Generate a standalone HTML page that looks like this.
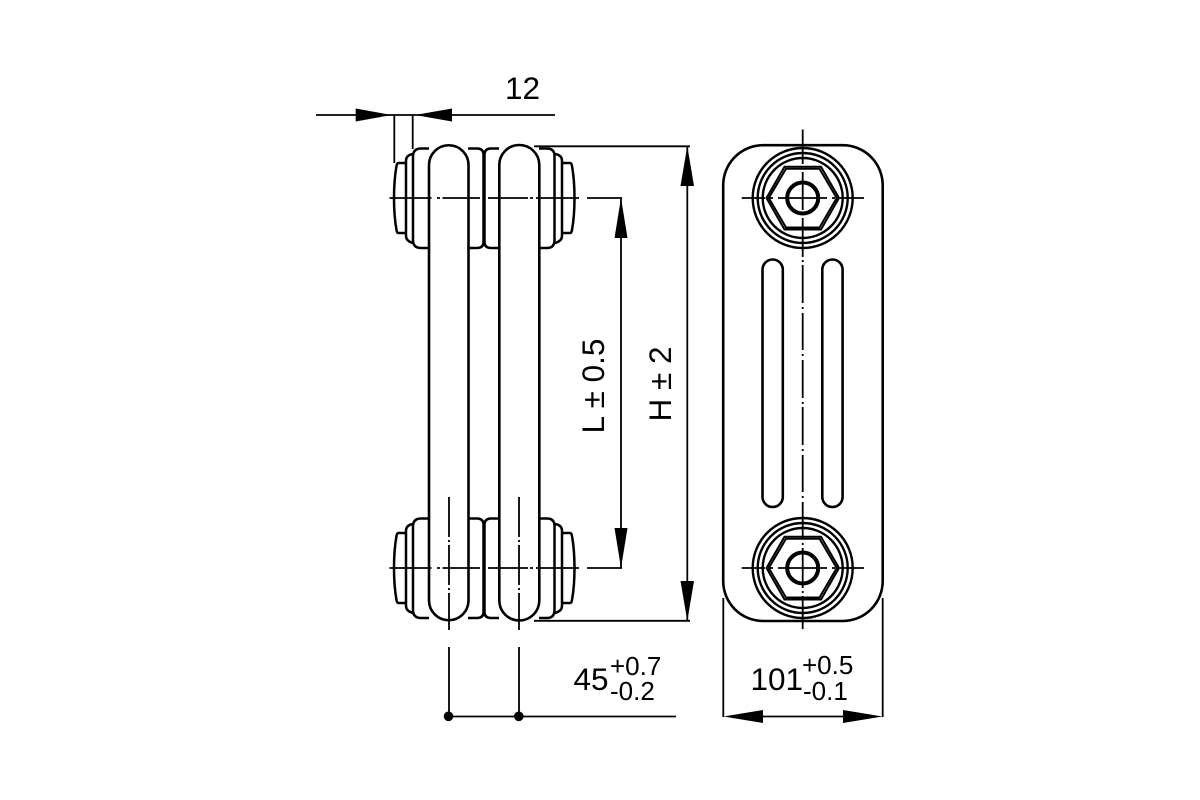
<!DOCTYPE html>
<html>
<head>
<meta charset="utf-8">
<style>
html,body{margin:0;padding:0;background:#fff}
svg{display:block}
text{font-family:"Liberation Sans",sans-serif;fill:#000}
</style>
</head>
<body>
<svg width="1200" height="800" viewBox="0 0 1200 800">
<defs>
<g id="collar" fill="none" stroke="#000" stroke-width="2.500">
  <path d="M429,148.500H421Q413,148.500 413,156.500V240Q413,248 421,248H429"/>
  <path d="M468,148.500H477Q483.500,148.500 483.500,155V242Q483.500,248 477,248H468"/>
  <path d="M499,148.500H491Q484.500,148.500 484.500,155V242Q484.500,248 491,248H499"/>
  <path d="M539,148.500H547Q554.500,148.500 554.500,156V240Q554.500,248 547,248H539"/>
  <path d="M413,154Q406,155 406,161V236Q406,241 413,243"/>
  <path d="M555,154Q562,155 562,161V236Q562,241 555,243"/>
  <path d="M406,163H398.500Q397,163 396.500,166Q394,180 394,198Q394,216 396.500,230Q397,233 398.500,233H406"/>
  <path d="M562,163H570Q571.500,163 572,166Q574.500,180 574.500,198Q574.500,216 572,230Q571.500,233 570,233H562"/>
</g>
<g id="hub" fill="none" stroke="#000">
  <circle cx="802.700" cy="198" r="50" stroke-width="2.400"/>
  <circle cx="802.700" cy="198" r="45" stroke-width="2.400"/>
  <circle cx="802.700" cy="198" r="40" stroke-width="2.400"/>
  <path d="M766.500,198L784.500,166.800H821L839,198L821,229.500H784.500Z" stroke-width="2"/>
  <path d="M768.800,198L786,168.800H819.500L836.700,198L819.500,227.500H786Z" stroke-width="2"/>
  <circle cx="802.700" cy="198" r="15.500" stroke-width="4"/>
  <path d="M741.700,198H765M770,198H773M778,198H827M832,198H835M840,198H864" stroke-width="1.800"/>
</g>
</defs>
<rect width="1200" height="800" fill="#fff"/>

<!-- left view collars -->
<use href="#collar"/>
<use href="#collar" y="370"/>

<!-- columns -->
<g fill="#fff" stroke="#000" stroke-width="2.600">
  <path d="M429,248V165A19.750,19.750 0 0 1 468.500,165V248"/>
  <path d="M429,518V600.500A19.750,19.750 0 0 0 468.500,600.500V518"/>
  <path d="M499.300,248V165A20,20 0 0 1 539.300,165V248"/>
  <path d="M499.300,518V600.500A20,20 0 0 0 539.300,600.500V518"/>
  <path d="M429,248V518M468.500,248V518M499.300,248V518M539.300,248V518" fill="none"/>
</g>

<!-- left view centre lines -->
<g fill="none" stroke="#000" stroke-width="1.800">
  <path d="M389.500,198H431.500M437,198H440M442.500,198H480M488,198H528M530,198H533M536,198H579M587,198H622"/>
  <path d="M389.500,568H431.500M437,568H440M442.500,568H480M488,568H528M530,568H533M536,568H579M587,568H622"/>
  <path d="M449,497V537M449,540V542M449,545V585M449,588V590M449,593V630"/>
  <path d="M519,497V537M519,540V542M519,545V585M519,588V590M519,593V630"/>
  <path d="M449,647V716M519,647V716"/>
  <path d="M449,716.500H676"/>
</g>
<circle cx="448.500" cy="716.300" r="4.800" fill="#000"/>
<circle cx="518.800" cy="716.300" r="4.800" fill="#000"/>

<!-- dimensions -->
<g fill="none" stroke="#000" stroke-width="1.800">
  <path d="M316,115H555"/>
  <path d="M394.300,115V163M412.700,115V149"/>
  <path d="M534,146.300H690M534,620.800H690"/>
  <path d="M687.300,146V621M621,198V568"/>
</g>
<g fill="#000">
  <path d="M391.700,115L355.700,108.500V121.500Z"/>
  <path d="M415,115L452,108.500V121.500Z"/>
  <path d="M687.300,146L680.500,186H694Z"/>
  <path d="M687.300,621L680.500,581H694Z"/>
  <path d="M621,198L614.500,238H627.500Z"/>
  <path d="M621,568L614.500,528H627.500Z"/>
  <path d="M723.500,716.500L763,710V723Z"/>
  <path d="M882.500,716.500L843,710V723Z"/>
</g>

<!-- right view -->
<rect x="723.200" y="145.200" width="159.500" height="475.800" rx="40" ry="40" fill="none" stroke="#000" stroke-width="2.600"/>
<use href="#hub"/>
<use href="#hub" y="370"/>
<g fill="none" stroke="#000" stroke-width="2.600">
  <rect x="762.500" y="259.500" width="20.300" height="247.500" rx="10.150"/>
  <rect x="822.300" y="259.500" width="20.300" height="247.500" rx="10.150"/>
</g>
<g fill="none" stroke="#000" stroke-width="1.800">
  <path d="M802.700,129.500V164M802.700,172V210M802.700,218V257M802.700,260V262M802.700,265V303M802.700,307V309M802.700,313V350M802.700,354V356M802.700,360V398M802.700,402V404M802.700,407V445M802.700,449V451M802.700,455V492M802.700,496V498M802.700,502V539M802.700,543V545M802.700,548V588M802.700,591V593M802.700,596V629"/>
  <path d="M723.300,598V717M882.700,598V717"/>
  <path d="M760,716.500H846"/>
</g>

<!-- labels -->
<text x="505" y="99" font-size="31.500">12</text>
<text transform="translate(604,433.500) rotate(-90)" font-size="31.500">L ± 0.5</text>
<text transform="translate(671,421.500) rotate(-90)" font-size="31.500">H ± 2</text>
<text x="573.500" y="690" font-size="31.500">45</text>
<text x="610" y="675" font-size="26">+0.7</text>
<text x="610" y="700" font-size="26">-0.2</text>
<text x="750.500" y="690" font-size="31.500">101</text>
<text x="802" y="674" font-size="26">+0.5</text>
<text x="803" y="700" font-size="26">-0.1</text>
</svg>
</body>
</html>
